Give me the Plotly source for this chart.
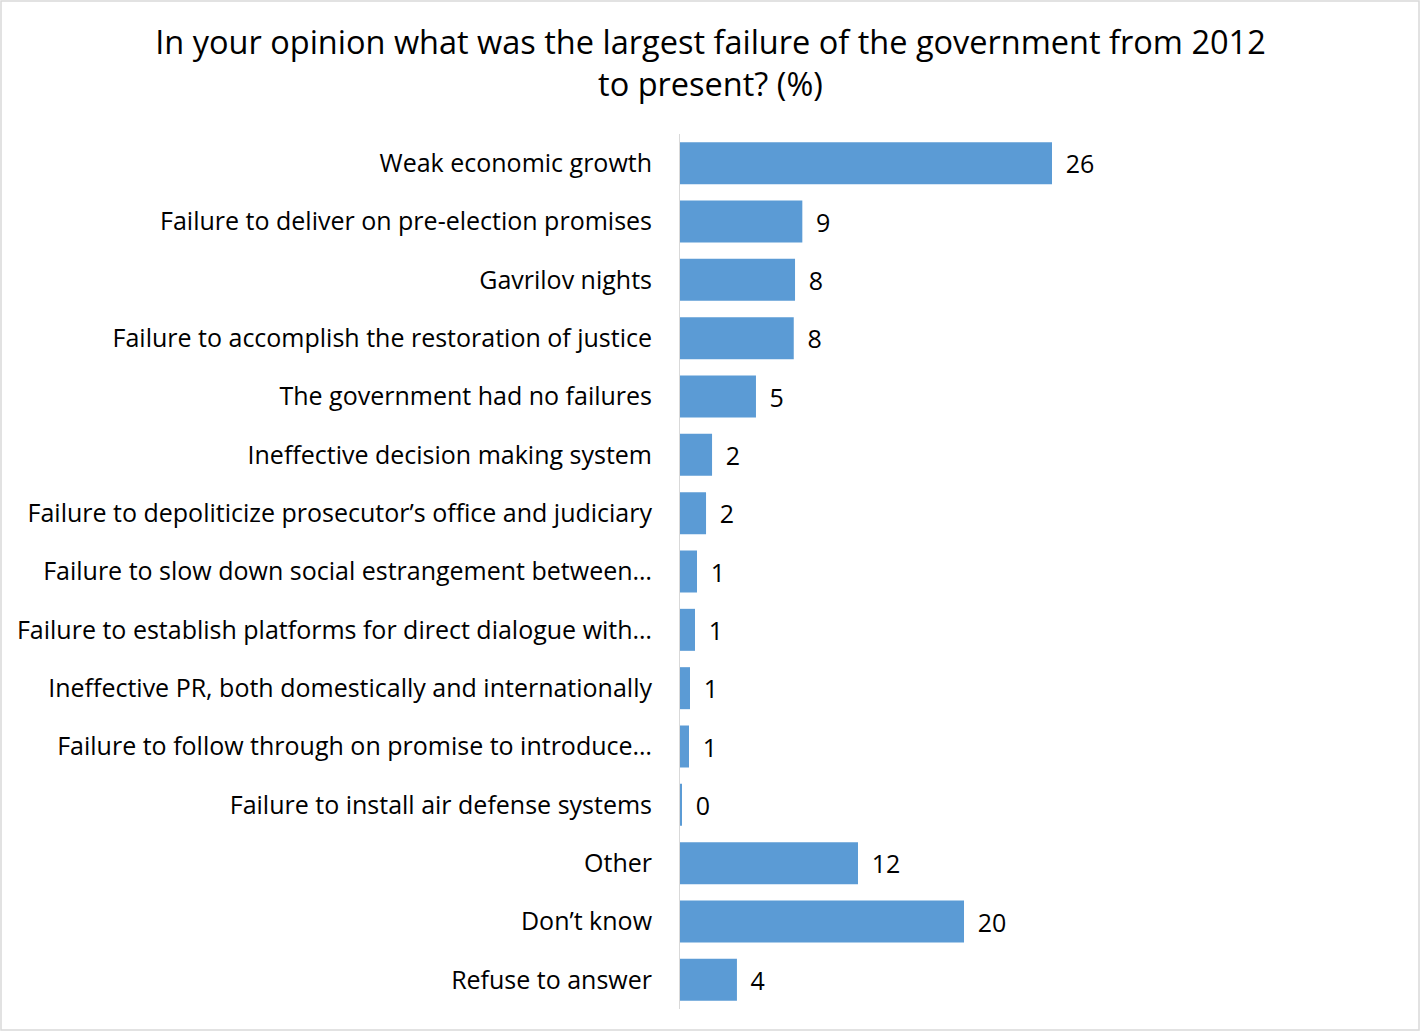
import plotly.graph_objects as go

# categories top to bottom as in the source chart
categories = [
    "Weak economic growth",
    "Failure to deliver on pre-election promises",
    "Gavrilov nights",
    "Failure to accomplish the restoration of justice",
    "The government had no failures",
    "Ineffective decision making system",
    "Failure to depoliticize prosecutor’s office and judiciary",
    "Failure to slow down social estrangement between…",
    "Failure to establish platforms for direct dialogue with…",
    "Ineffective PR, both domestically and internationally",
    "Failure to follow through on promise to introduce…",
    "Failure to install air defense systems",
    "Other",
    "Don’t know",
    "Refuse to answer",
]
# percentages (unrounded estimates, labels shown rounded)
values = [26.0, 8.55, 8.04, 7.95, 5.31, 2.24, 1.82, 1.19, 1.05, 0.70, 0.63, 0.14, 12.44, 19.85, 3.98]

title = "In your opinion what was the largest failure of the government from 2012<br>to present? (%)"

W, H = 1421, 1032
ml, mr, mt, mb = 680, 26, 134, 23
pw = W - ml - mr
ph = H - mt - mb

fig = go.Figure()
fig.add_trace(go.Bar(
    x=values[::-1], y=categories[::-1], orientation="h",
    marker=dict(color="#5b9bd5", line=dict(width=0)),
    texttemplate="\u2009 %{x:.0f}", textposition="outside", cliponaxis=False,
    textfont=dict(size=25, color="#000000"),
))

# thin grey frame around the whole chart
fig.add_shape(type="rect", xref="paper", yref="paper",
              x0=(1 - ml) / pw, x1=1 + (mr - 2) / pw,
              y0=-(mb - 2) / ph, y1=1 + (mt - 1) / ph,
              line=dict(color="#d9d9d9", width=1.5), layer="below")

fig.update_layout(
    width=W, height=H,
    margin=dict(l=ml, r=mr, t=mt, b=mb),
    paper_bgcolor="white", plot_bgcolor="white",
    font=dict(family="Open Sans, sans-serif", size=25, color="#000000"),
    title=dict(text=title, x=0.5, xref="container", xanchor="center",
               y=1 - 54 / H, yref="container", yanchor="middle",
               font=dict(size=32.5, color="#000000")),
    bargap=0.28,
    showlegend=False,
    xaxis=dict(range=[0, pw * 26 / 372], visible=False, fixedrange=True,
               automargin=False),
    yaxis=dict(showline=True, linecolor="#d9d9d9", linewidth=1, ticks="",
               ticklabelstandoff=22, showgrid=False, tickfont=dict(size=25),
               automargin=False),
)

# page body has a default 8px margin, drop it so the chart sits at 0,0
fig.write_html("out.html", config={"displayModeBar": False},
               post_script="document.body.style.margin='0';")
